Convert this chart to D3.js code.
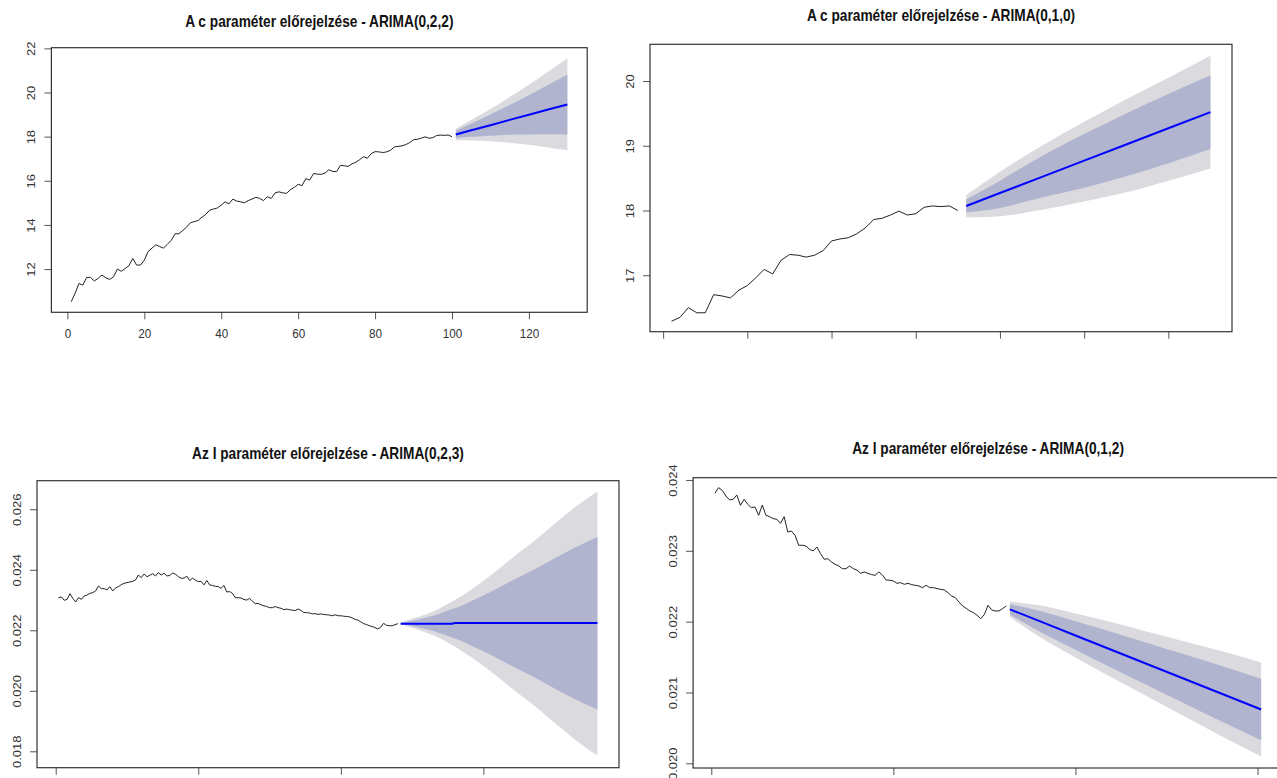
<!DOCTYPE html>
<html>
<head>
<meta charset="utf-8">
<script src="https://cdn.jsdelivr.net/npm/d3@7"></script>
<style>
  body { margin: 0; background: #fff; }
  svg { display: block; font-family: "Liberation Sans", Arial, sans-serif; }
</style>
</head>
<body>
<script>
// c parameter, observations t = 1..100
const cObs = [
  10.52, 10.90, 11.35, 11.27, 11.62, 11.62, 11.46, 11.58, 11.73, 11.60,
  11.53, 11.65, 12.00, 11.90, 12.02, 12.15, 12.48, 12.18, 12.18, 12.40,
  12.80, 12.95, 13.10, 13.02, 12.95, 13.12, 13.30, 13.60, 13.60, 13.75,
  13.90, 14.10, 14.15, 14.20, 14.35, 14.48, 14.67, 14.72, 14.77, 14.90,
  15.05, 14.95, 15.17, 15.08, 15.05, 15.00, 15.10, 15.17, 15.25, 15.20,
  15.10, 15.28, 15.20, 15.45, 15.50, 15.45, 15.43, 15.60, 15.70, 15.84,
  15.78, 16.10, 16.03, 16.33, 16.30, 16.29, 16.35, 16.50, 16.42, 16.42,
  16.70, 16.68, 16.65, 16.77, 16.84, 16.96, 17.09, 17.02, 17.23, 17.32,
  17.31, 17.28, 17.31, 17.38, 17.53, 17.56, 17.58, 17.64, 17.73, 17.86,
  17.88, 17.93, 17.99, 17.93, 17.95, 18.05, 18.07, 18.06, 18.07, 18.00
];

// I parameter, observations t = 1..120
const iObs = [
  0.023079, 0.023101, 0.022991, 0.023024, 0.023211, 0.023057, 0.022936, 0.023079, 0.023024, 0.023134,
  0.023167, 0.023222, 0.023244, 0.023300, 0.023465, 0.023377, 0.023377, 0.023333, 0.023443, 0.023300,
  0.023399, 0.023443, 0.023509, 0.023553, 0.023575, 0.023597, 0.023619, 0.023663, 0.023828, 0.023740,
  0.023861, 0.023773, 0.023817, 0.023872, 0.023795, 0.023905, 0.023828, 0.023883, 0.023795,
  0.023812, 0.023892, 0.023854, 0.023774, 0.023718, 0.023727, 0.023788, 0.023642, 0.023727, 0.023656,
  0.023609, 0.023619, 0.023501, 0.023647, 0.023501, 0.023482, 0.023454, 0.023445, 0.023388, 0.023482,
  0.023266, 0.023280, 0.023219, 0.023078, 0.023078, 0.023068, 0.023021, 0.022998, 0.023054, 0.022960,
  0.022880, 0.022889, 0.022842, 0.022809, 0.022786, 0.022748, 0.022748, 0.022786, 0.022748, 0.022729,
  0.022682, 0.022701, 0.022682, 0.022664, 0.022654, 0.022701, 0.022659, 0.022588, 0.022584, 0.022574,
  0.022541, 0.022551, 0.022527, 0.022541, 0.022522, 0.022513, 0.022504, 0.022480, 0.022513, 0.022480,
  0.022480, 0.022466, 0.022456, 0.022447, 0.022409, 0.022362, 0.022339, 0.022278, 0.022221, 0.022188,
  0.022151, 0.022127, 0.022089, 0.022042, 0.022104, 0.022231, 0.022165, 0.022151, 0.022151, 0.022184,
  0.022221
];

// forecast ARIMA(0,2,2) for c
const fc1Time = [101, 105, 110, 115, 120, 125, 130];
const fc1Mean = [18.10, 18.29, 18.52, 18.76, 18.99, 19.23, 19.46];
const fc1Hi95 = [18.36, 18.75, 19.25, 19.80, 20.35, 20.95, 21.54];
const fc1Hi80 = [18.27, 18.59, 19.00, 19.43, 19.88, 20.35, 20.82];
const fc1Lo80 = [17.93, 17.99, 18.04, 18.09, 18.10, 18.11, 18.10];
const fc1Lo95 = [17.84, 17.83, 17.79, 17.72, 17.63, 17.51, 17.38];

// forecast ARIMA(0,1,0) for c (last 35 observations shown)
const fc2Time = [36, 40, 45, 50, 55, 60, 65];
const fc2Mean = [18.07, 18.27, 18.52, 18.77, 19.02, 19.27, 19.52];
const fc2Hi95 = [18.24, 18.60, 19.00, 19.37, 19.72, 20.05, 20.39];
const fc2Hi80 = [18.17, 18.46, 18.84, 19.18, 19.50, 19.80, 20.09];
const fc2Lo80 = [17.97, 18.04, 18.20, 18.35, 18.53, 18.73, 18.95];
const fc2Lo95 = [17.89, 17.91, 18.01, 18.14, 18.28, 18.46, 18.65];

// forecast ARIMA(0,2,3) for I
const fc3Time = [121, 127, 133, 139, 140, 147, 154, 161, 168, 175, 182, 190];
const fc3Mean = [0.02222, 0.02222, 0.02222, 0.02222, 0.02224, 0.02224, 0.02224, 0.02224, 0.02224, 0.02224, 0.02224, 0.02224];
const fc3Hi95 = [0.02226, 0.02244, 0.02265, 0.02295, 0.02300, 0.02343, 0.02392, 0.02446, 0.02496, 0.02552, 0.02606, 0.02660];
const fc3Hi80 = [0.02225, 0.02236, 0.02250, 0.02270, 0.02273, 0.02302, 0.02334, 0.02369, 0.02402, 0.02438, 0.02473, 0.02508];
const fc3Lo80 = [0.02221, 0.02210, 0.02196, 0.02176, 0.02173, 0.02144, 0.02112, 0.02077, 0.02044, 0.02008, 0.01973, 0.01938];
const fc3Lo95 = [0.02220, 0.02202, 0.02181, 0.02151, 0.02146, 0.02103, 0.02054, 0.02000, 0.01950, 0.01894, 0.01840, 0.01786];

// forecast ARIMA(0,1,2) for I (last 81 observations shown)
const fc4Time = [82, 90, 100, 110, 120, 130, 140, 151];
const fc4Mean = [0.022174, 0.022010, 0.021805, 0.021600, 0.021395, 0.021190, 0.020985, 0.020760];
const fc4Hi95 = [0.022284, 0.022230, 0.022115, 0.021990, 0.021855, 0.021720, 0.021585, 0.021425];
const fc4Hi80 = [0.022246, 0.022154, 0.022007, 0.021855, 0.021695, 0.021536, 0.021377, 0.021194];
const fc4Lo80 = [0.022102, 0.021866, 0.021603, 0.021345, 0.021095, 0.020844, 0.020593, 0.020326];
const fc4Lo95 = [0.022064, 0.021790, 0.021495, 0.021210, 0.020935, 0.020660, 0.020385, 0.020095];

const panels = [
  { title: "A c paraméter előrejelzése - ARIMA(0,2,2)", titleY: 26.5,
    box: {x0: 51.4, x1: 587.2, y0: 47.7, y1: 312.3},
    xDomain: [-4.16, 135.16], yDomain: [10.04, 22.03],
    xTicks: [0, 20, 40, 60, 80, 100, 120], xLabels: true,
    yTicks: [12, 14, 16, 18, 20, 22], yFmt: d3.format("d"),
    obs: cObs,
    fc: {t: fc1Time, mean: fc1Mean, hi95: fc1Hi95, hi80: fc1Hi80, lo80: fc1Lo80, lo95: fc1Lo95} },
  { title: "A c paraméter előrejelzése - ARIMA(0,1,0)", titleY: 20.8,
    box: {x0: 650, x1: 1232, y0: 44.3, y1: 331.7},
    xDomain: [-1.56, 67.56], yDomain: [16.128, 20.567],
    xTicks: [0, 10, 20, 30, 40, 50, 60], xLabels: false,
    yTicks: [17, 18, 19, 20], yFmt: d3.format("d"),
    obs: cObs.slice(65),
    fc: {t: fc2Time, mean: fc2Mean, hi95: fc2Hi95, hi80: fc2Hi80, lo80: fc2Lo80, lo95: fc2Lo95} },
  { title: "Az I paraméter előrejelzése - ARIMA(0,2,3)", titleY: 459.2,
    box: {x0: 37, x1: 619, y0: 480.7, y1: 767.7},
    xDomain: [-6.56, 197.56], yDomain: [0.017458, 0.026945],
    xTicks: [0, 50, 100, 150], xLabels: false,
    yTicks: [0.018, 0.020, 0.022, 0.024, 0.026], yFmt: d3.format(".3f"),
    obs: iObs,
    fc: {t: fc3Time, mean: fc3Mean, hi95: fc3Hi95, hi80: fc3Hi80, lo80: fc3Lo80, lo95: fc3Lo95} },
  { title: "Az I paraméter előrejelzése - ARIMA(0,1,2)", titleY: 454.2,
    box: {x0: 693.1, x1: 1283, y0: 477.7, y1: 768},
    xDomain: [-5, 157], yDomain: [0.019934, 0.024032],
    xTicks: [0, 50, 100, 150], xLabels: false,
    yTicks: [0.020, 0.021, 0.022, 0.023, 0.024], yFmt: d3.format(".3f"),
    obs: iObs.slice(39),
    fc: {t: fc4Time, mean: fc4Mean, hi95: fc4Hi95, hi80: fc4Hi80, lo80: fc4Lo80, lo95: fc4Lo95} }
];

const squeeze = 0.84;   // the screenshot is narrower than R drew it

const svg = d3.select("body").append("svg")
    .attr("width", 1277)
    .attr("height", 778);

panels.forEach(p => drawPanel(p));

function drawPanel(p) {
    const b = p.box;
    const x = d3.scaleLinear().domain(p.xDomain).range([b.x0, b.x1]);
    const y = d3.scaleLinear().domain(p.yDomain).range([b.y1, b.y0]);
    const g = svg.append("g");

    // prediction intervals
    const rows = p.fc.t.map((t, i) => ({
        t: t, mean: p.fc.mean[i],
        lo95: p.fc.lo95[i], hi95: p.fc.hi95[i],
        lo80: p.fc.lo80[i], hi80: p.fc.hi80[i]
    }));
    const area95 = d3.area().x(d => x(d.t)).y0(d => y(d.lo95)).y1(d => y(d.hi95)).curve(d3.curveMonotoneX);
    const area80 = d3.area().x(d => x(d.t)).y0(d => y(d.lo80)).y1(d => y(d.hi80)).curve(d3.curveMonotoneX);
    g.append("path").datum(rows).attr("d", area95).attr("fill", "#dadadf");
    g.append("path").datum(rows).attr("d", area80).attr("fill", "#b0b4cf");

    // observed series
    const line = d3.line().x((d, i) => x(i + 1)).y(d => y(d));
    g.append("path").datum(p.obs)
        .attr("d", line)
        .attr("fill", "none")
        .attr("stroke", "#222")
        .attr("stroke-width", 1);

    // point forecast
    g.append("path").datum(rows)
        .attr("d", d3.line().x(d => x(d.t)).y(d => y(d.mean)))
        .attr("fill", "none")
        .attr("stroke", "#0000ff")
        .attr("stroke-width", 2);

    // axes
    const xAxis = g.append("g")
        .attr("transform", `translate(0, ${b.y1})`)
        .call(d3.axisBottom(x).tickValues(p.xTicks).tickSize(7).tickSizeOuter(0)
            .tickFormat(p.xLabels ? d3.format("d") : ""));
    const yAxis = g.append("g")
        .attr("transform", `translate(${b.x0}, 0)`)
        .call(d3.axisLeft(y).tickValues(p.yTicks).tickSize(7).tickSizeOuter(0).tickFormat(p.yFmt));

    [xAxis, yAxis].forEach(a => {
        a.select(".domain").remove();
        a.attr("color", "#333")
            .attr("font-size", 13)
            .attr("font-family", "'Liberation Sans', Arial, sans-serif");
        a.selectAll(".tick line").attr("stroke", "#555");
    });

    xAxis.selectAll(".tick text")
        .attr("y", null)
        .attr("dy", null)
        .attr("transform", `translate(0, 25.5) scale(0.9, 1)`);

    yAxis.selectAll(".tick text")
        .attr("x", null)
        .attr("dy", null)
        .attr("text-anchor", "middle")
        .attr("transform", `translate(-16, 0) scale(${squeeze}, 1) rotate(-90)`);

    // box
    g.append("rect")
        .attr("x", b.x0)
        .attr("y", b.y0)
        .attr("width", b.x1 - b.x0)
        .attr("height", b.y1 - b.y0)
        .attr("fill", "none")
        .attr("stroke", "#333")
        .attr("stroke-width", 1.2);

    // title
    g.append("text")
        .attr("transform", `translate(${(b.x0 + b.x1) / 2}, ${p.titleY}) scale(${squeeze}, 1)`)
        .attr("text-anchor", "middle")
        .attr("font-size", 16.3)
        .attr("font-weight", "bold")
        .attr("fill", "#111")
        .text(p.title);
}
</script>
</body>
</html>
